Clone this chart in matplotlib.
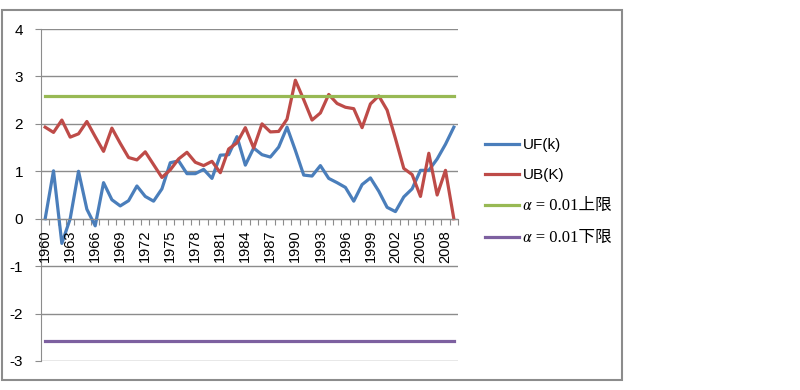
import numpy as np
import matplotlib
matplotlib.use("Agg")
import matplotlib.pyplot as plt
from matplotlib.patches import Rectangle

years = list(range(1960, 2010))
uf = [0.0, 1.01, -0.52, 0.0, 1.0, 0.2, -0.15, 0.76, 0.4, 0.27,
      0.38, 0.69, 0.47, 0.37, 0.63, 1.18, 1.22, 0.95, 0.95, 1.04,
      0.85, 1.34, 1.35, 1.73, 1.13, 1.49, 1.35, 1.3, 1.51, 1.93,
      1.44, 0.92, 0.9, 1.12, 0.85, 0.76, 0.66, 0.37, 0.72, 0.86,
      0.58, 0.24, 0.15, 0.46, 0.63, 1.02, 1.02, 1.26, 1.57, 1.93]
ub = [1.93, 1.82, 2.08, 1.72, 1.79, 2.05, 1.73, 1.42, 1.91, 1.59,
      1.29, 1.24, 1.41, 1.14, 0.87, 1.03, 1.26, 1.4, 1.19, 1.12,
      1.21, 0.97, 1.47, 1.6, 1.92, 1.49, 2.0, 1.83, 1.84, 2.1,
      2.92, 2.51, 2.08, 2.23, 2.62, 2.43, 2.35, 2.32, 1.92, 2.42,
      2.59, 2.29, 1.69, 1.06, 0.93, 0.47, 1.38, 0.5, 1.02, 0.0]
upper = 2.58
lower = -2.58

labels = ["UF(k)", "UB(K)", "\U0001D6FC = 0.01上限", "\U0001D6FC = 0.01下限"]
colors = ["#4A7EBB", "#BE4B48", "#98B954", "#7D60A0"]

plt.rcParams['font.family'] = ['Liberation Sans', 'Noto Sans CJK SC']
plt.rcParams['axes.unicode_minus'] = False

fig = plt.figure(figsize=(8, 3.9), dpi=100)
ax = fig.add_axes([41 / 800, 1 - 361 / 390, (458 - 41) / 800, (361 - 29) / 390])

x = np.arange(len(years))
lw = 2.3
ax.plot(x, uf, color=colors[0], lw=lw, label=labels[0])
ax.plot(x, ub, color=colors[1], lw=lw, label=labels[1])
ax.plot(x, [upper] * len(x), color=colors[2], lw=lw, label=labels[2])
ax.plot(x, [lower] * len(x), color=colors[3], lw=lw, label=labels[3])

ax.set_xlim(-0.5, len(years) - 0.5)
ax.set_ylim(-3, 4)
ax.set_yticks(range(-3, 5))
ax.yaxis.grid(True, color="#8c8c8c", lw=1)
ax.set_axisbelow(True)
for s in ["top", "right"]:
    ax.spines[s].set_visible(False)
ax.spines["left"].set_color("#8c8c8c")
ax.spines["bottom"].set_position(("data", 0))
ax.spines["bottom"].set_color("#8c8c8c")
ax.set_xticks(np.arange(-0.5, len(years)))
ax.set_xticklabels([])
ax.tick_params(axis="x", length=4, color="#8c8c8c", direction="out")
ax.tick_params(axis="y", length=4, color="#8c8c8c", labelsize=11, pad=9)

for i, yr in enumerate(years):
    if i % 3 == 0:
        ax.annotate(str(yr), xy=(i, 0), xytext=(0, -8), textcoords="offset points",
                    rotation=90, ha="center", va="top", fontsize=10.5)

leg = fig.legend(loc="upper left", bbox_to_anchor=(485 / 800, 1 - 138 / 390),
                 frameon=False, fontsize=11, handlelength=2.2, handletextpad=0.3,
                 labelspacing=1.05, borderpad=0, borderaxespad=0)
for t in leg.get_texts()[2:]:
    t.set_family(['Liberation Serif', 'STIXGeneral', 'Noto Sans CJK SC'])
    t.set_fontsize(12)

fig.patches.append(Rectangle((0.002, 1 - 380 / 390), 620 / 800, 370 / 390,
                             transform=fig.transFigure, fill=False,
                             edgecolor="#8c8c8c", lw=1.5))

fig.savefig("out.png", dpi=100)
